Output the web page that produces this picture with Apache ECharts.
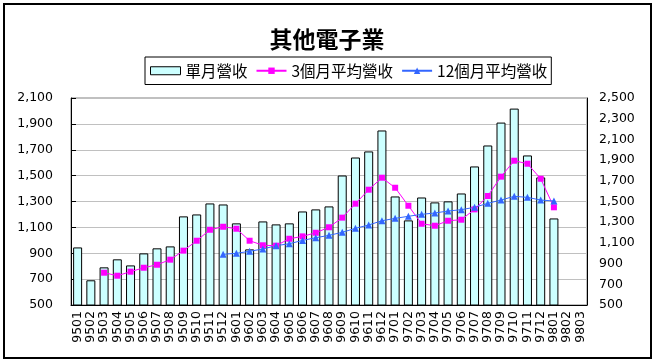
<!DOCTYPE html>
<html>
<head>
<meta charset="utf-8">
<script src="https://cdn.jsdelivr.net/npm/echarts@6/dist/echarts.min.js"></script>
<style>
html,body{margin:0;padding:0;background:#fff;}
#chart{width:654px;height:363px;}
</style>
</head>
<body>
<div id="chart"></div>
<script>
const categories = ['9501','9502','9503','9504','9505','9506','9507','9508','9509','9510','9511','9512',
  '9601','9602','9603','9604','9605','9606','9607','9608','9609','9610','9611','9612',
  '9701','9702','9703','9704','9705','9706','9707','9708','9709','9710','9711','9712',
  '9801','9802','9803'];
const monthlyRevenue = [945,691,791,853,806,899,938,953,1185,1200,1285,1277,
  1131,930,1146,1123,1131,1223,1239,1262,1501,1640,1687,1849,
  1339,1154,1331,1293,1301,1362,1571,1733,1910,2018,1656,1486,
  1169,null,null];
const avg3Month = [null,null,812,783,822,860,889,938,1025,1121,1227,1256,
  1237,1121,1077,1073,1140,1163,1198,1251,1344,1479,1614,1730,
  1633,1459,1285,1266,1314,1324,1424,1553,1740,1894,1865,1720,
  1444,null,null];
const avg12Month = [null,null,null,null,null,null,null,null,null,null,null,990,
  999,1019,1041,1073,1092,1124,1150,1173,1202,1241,1273,1314,
  1337,1357,1376,1389,1408,1421,1444,1482,1514,1550,1540,1514,
  1505,null,null];
const seriesNames = ['單月營收','3個月平均營收','12個月平均營收'];
const titleText = '其他電子業';

const chart = echarts.init(document.getElementById('chart'), null, {renderer:'canvas'});
const fmt = v => v.toLocaleString('en-US');
const axisFont = {fontFamily:'DejaVu Sans', fontSize:12.5, color:'#000'};
chart.setOption({
  animation:false,
  backgroundColor:'#fff',
  title:{
    text:titleText, left:'center', top:23,
    textStyle:{fontFamily:'Noto Sans CJK TC', fontSize:23, fontWeight:'bold', color:'#000'}
  },
  legend:{
    left:145, top:57,
    padding:[6,4,6,5],
    borderColor:'#000', borderWidth:1,
    itemGap:8, itemWidth:30, itemHeight:8,
    textStyle:{fontFamily:'Noto Sans CJK TC', fontSize:15.5, color:'#000'},
    data:[
      {name:seriesNames[0], icon:'rect', itemStyle:{color:'#CCFFFF', borderColor:'#000', borderWidth:1}},
      {name:seriesNames[1]},
      {name:seriesNames[2]}
    ]
  },
  graphic:[{
    type:'rect', shape:{x:4, y:4, width:647, height:354},
    style:{fill:null, stroke:'#000', lineWidth:2}, silent:true, z:100
  }],
  grid:{left:71, right:67, top:98, bottom:58, show:true, borderColor:'#808080', borderWidth:1},
  xAxis:{
    type:'category', data:categories, boundaryGap:true,
    axisLine:{lineStyle:{color:'#000', width:1}},
    axisTick:{show:false},
    axisLabel:Object.assign({interval:0, rotate:90, margin:6}, axisFont)
  },
  yAxis:[
    {type:'value', min:500, max:2100, interval:200, position:'left',
     axisLine:{show:true, lineStyle:{color:'#000'}},
     axisTick:{show:true, inside:true, length:5, lineStyle:{color:'#000'}},
     splitLine:{show:true, lineStyle:{color:'#C0C0C0'}},
     axisLabel:Object.assign({margin:18, formatter:fmt}, axisFont)},
    {type:'value', min:500, max:2500, interval:200, position:'right',
     axisLine:{show:true, lineStyle:{color:'#000'}},
     axisTick:{show:false},
     splitLine:{show:false},
     axisLabel:Object.assign({margin:12, formatter:fmt}, axisFont)}
  ],
  series:[
    {name:seriesNames[0], type:'bar', data:monthlyRevenue, yAxisIndex:0,
     barCategoryGap:'32%',
     itemStyle:{color:'#CCFFFF', borderColor:'#000', borderWidth:1}},
    {name:seriesNames[1], type:'line', data:avg3Month, yAxisIndex:1,
     symbol:'rect', symbolSize:6, showAllSymbol:true,
     lineStyle:{color:'#FF00FF', width:1},
     itemStyle:{color:'#FF00FF'}},
    {name:seriesNames[2], type:'line', data:avg12Month, yAxisIndex:1,
     symbol:'triangle', symbolSize:7, showAllSymbol:true,
     lineStyle:{color:'#3366FF', width:1},
     itemStyle:{color:'#3366FF'}}
  ]
});
</script>
</body>
</html>
